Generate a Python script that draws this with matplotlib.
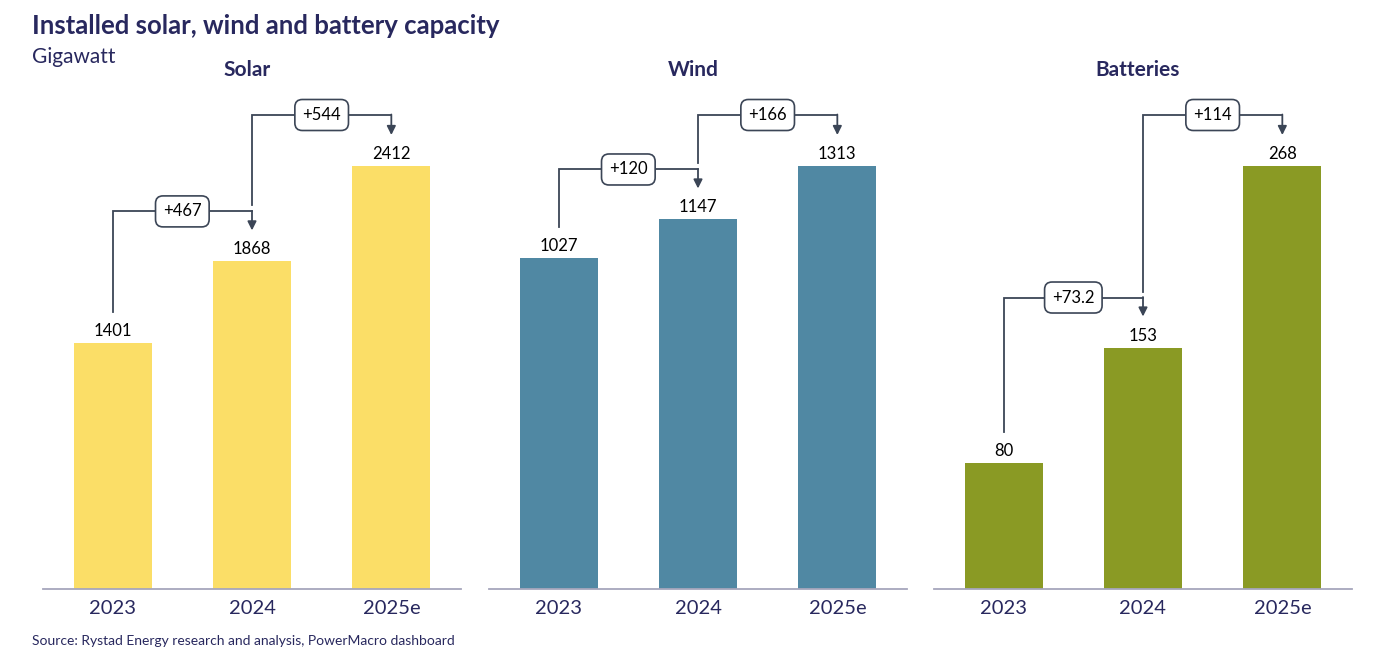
import matplotlib.pyplot as plt

# ── Data ─────────────────────────────────────────────────────────────────────
categories = ["2023", "2024", "2025e"]
solar = [1401, 1868, 2412]
wind = [1027, 1147, 1313]
batteries = [80, 153, 268]
solar_delta = ["+467", "+544"]
wind_delta = ["+120", "+166"]
batteries_delta = ["+73.2", "+114"]

panels = [
    ("Solar", solar, solar_delta, "#FBDE67"),
    ("Wind", wind, wind_delta, "#5088A3"),
    ("Batteries", batteries, batteries_delta, "#8A9A24"),
]

NAVY = "#28285E"
LINE = "#3B4556"
FONT = "Lato"

W, H = 1398, 667
fig = plt.figure(figsize=(W / 100, H / 100), dpi=100)
fig.patch.set_facecolor("white")

AX_LEFT = [43, 489, 934]
AX_W = 418
AX_BOTTOM = 589
AX_TOP = 100
AX_H = AX_BOTTOM - AX_TOP
BAR_PX = 423  # pixel height of tallest bar


def draw_panel(left, title, values, deltas, color):
    ax = fig.add_axes([left / W, (H - AX_BOTTOM) / H, AX_W / W, AX_H / H])
    top = max(values) * AX_H / BAR_PX
    px = top / AX_H  # data units per pixel
    x = list(range(len(values)))
    ax.bar(x, values, width=0.56, color=color, zorder=2)
    ax.set_xlim(-0.5, len(values) - 0.5)
    ax.set_ylim(0, top)
    for s in ["top", "right", "left"]:
        ax.spines[s].set_visible(False)
    ax.spines["bottom"].set_color("#A6A6BC")
    ax.spines["bottom"].set_linewidth(1.3)
    ax.set_yticks([])
    ax.set_xticks(x)
    ax.set_xticklabels(categories, fontsize=14.5, color=NAVY, family=FONT)
    ax.tick_params(axis="x", length=0, pad=8)

    for xi, v in zip(x, values):
        ax.text(xi, v + 12 * px, f"{v}", ha="center", va="center",
                fontsize=12, color="black", family=FONT)

    # bracket 1: bar0 -> bar1
    b1 = values[1] + 50 * px
    ax.plot([0, 0, 1], [values[0] + 31 * px, b1, b1], color=LINE, lw=1.3,
            solid_joinstyle="miter", zorder=3)
    ax.annotate("", xy=(1, values[1] + 31 * px), xytext=(1, b1 + 0.5 * px),
                arrowprops=dict(arrowstyle="-|>", color=LINE, lw=1.3,
                                mutation_scale=13, shrinkA=0, shrinkB=0),
                zorder=3)
    # bracket 2: bar1 -> bar2
    b2 = values[2] + 51 * px
    ax.plot([1, 1, 2], [b1 + 6 * px, b2, b2], color=LINE, lw=1.3,
            solid_joinstyle="miter", zorder=3)
    ax.annotate("", xy=(2, values[2] + 31 * px), xytext=(2, b2 + 0.5 * px),
                arrowprops=dict(arrowstyle="-|>", color=LINE, lw=1.3,
                                mutation_scale=13, shrinkA=0, shrinkB=0),
                zorder=3)

    box = dict(boxstyle="round,pad=0.45,rounding_size=0.45", facecolor="white",
               edgecolor=LINE, linewidth=1.2)
    ax.text(0.5, b1, deltas[0], ha="center", va="center", fontsize=12,
            color="black", family=FONT, bbox=box, zorder=4)
    ax.text(1.5, b2, deltas[1], ha="center", va="center", fontsize=12,
            color="black", family=FONT, bbox=box, zorder=4)

    fig.text((left + AX_W / 2 - 5) / W, 1 - 70 / H, title, ha="center",
             va="center", fontsize=15, fontweight="bold", color=NAVY, family=FONT)


for left, (title, vals, deltas, color) in zip(AX_LEFT, panels):
    draw_panel(left, title, vals, deltas, color)

fig.text(32 / W, 1 - 26 / H, "Installed solar, wind and battery capacity",
         ha="left", va="center", fontsize=18.5, fontweight="bold", color=NAVY,
         family=FONT)
fig.text(32 / W, 1 - 57 / H, "Gigawatt", ha="left", va="center", fontsize=15,
         color=NAVY, family=FONT)
fig.text(32 / W, 1 - 641 / H,
         "Source: Rystad Energy research and analysis, PowerMacro dashboard",
         ha="left", va="center", fontsize=10, color=NAVY, family=FONT)

fig.savefig("out.png", dpi=100, facecolor="white")
